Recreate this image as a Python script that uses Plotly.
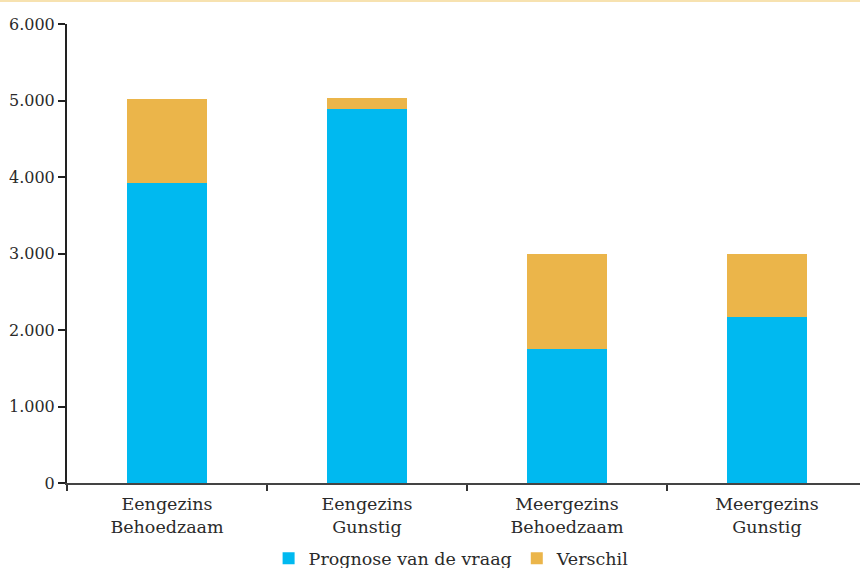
import plotly.graph_objects as go

categories = ["Eengezins<br>Behoedzaam", "Eengezins<br>Gunstig", "Meergezins<br>Behoedzaam", "Meergezins<br>Gunstig"]
prognose = [3920, 4890, 1750, 2170]
verschil = [1100, 145, 1240, 820]
ytickvals = [0, 1000, 2000, 3000, 4000, 5000, 6000]

W, H = 860, 568
ml, mr, mt, mb = 67, 0, 24, 85
plot_h = H - mt - mb

fig = go.Figure()
fig.add_bar(x=categories, y=prognose, name="Prognose van de vraag", marker_color="#00B9F0", marker_line_width=0)
fig.add_bar(x=categories, y=verschil, name="Verschil", marker_color="#EBB54A", marker_line_width=0)

font_family = "DejaVu Serif"
fig.update_layout(
    width=W, height=H,
    margin=dict(l=ml, r=mr, t=mt, b=mb, autoexpand=False),
    barmode="stack", bargap=0.6,
    plot_bgcolor="white", paper_bgcolor="white",
    separators=",.",
    font=dict(family=font_family, size=16, color="#2a2a2a"),
    showlegend=True,
    legend=dict(orientation="h", xanchor="center", x=0.485, yanchor="top", y=-0.125,
                traceorder="normal",
                font=dict(size=17.5, family=font_family, color="#2a2a2a"),
                tracegroupgap=0, bgcolor="rgba(0,0,0,0)"),
    xaxis=dict(range=[-0.5, 3.465], showline=True, linecolor="#444444", linewidth=1.5,
               ticks="outside", tickson="boundaries", ticklen=6, tickwidth=1.5, tickcolor="#333333",
               ticklabelstandoff=4,
               tickfont=dict(size=17.5, family=font_family, color="#2a2a2a"), showgrid=False, zeroline=False,
               automargin=False),
    yaxis=dict(range=[0, 6000], tickvals=ytickvals, tickformat=",d", showline=True, linecolor="#222222",
               linewidth=2, ticks="outside", ticklen=7, tickwidth=1.5, tickcolor="#222222",
               tickfont=dict(size=16, family=font_family, color="#2a2a2a"), showgrid=False, zeroline=False,
               automargin=False),
    shapes=[dict(type="rect", xref="paper", yref="paper", x0=-ml / (W - ml), x1=1.0,
                 y0=1 + (mt - 2) / plot_h, y1=1 + mt / plot_h, fillcolor="#F7E2B0", line_width=0, layer="above")],
)
fig.write_html("out.html")
